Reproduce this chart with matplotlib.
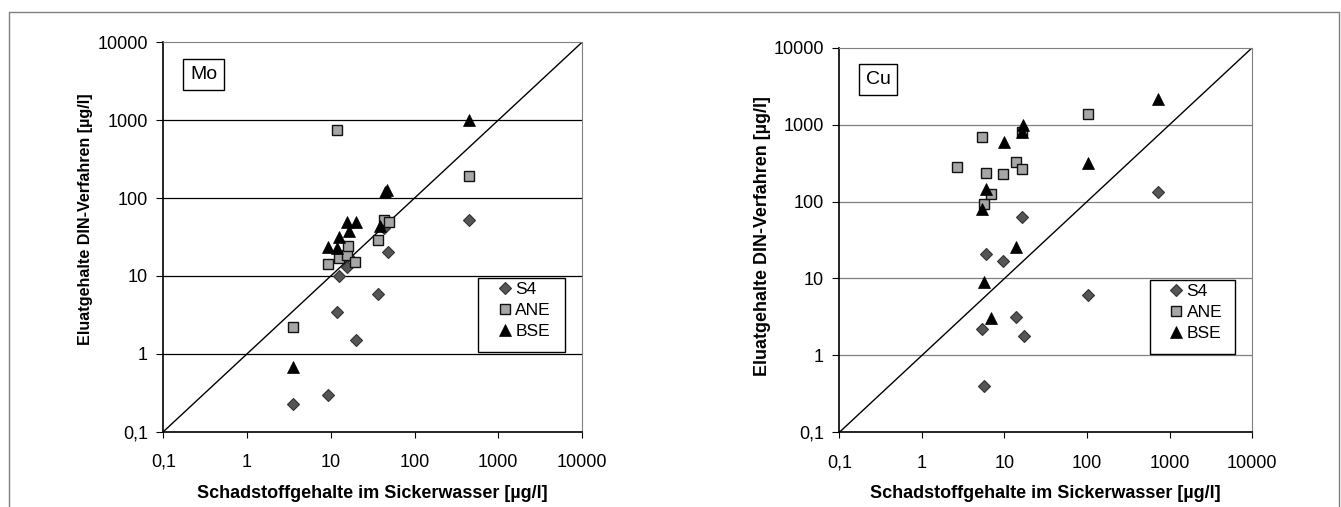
import matplotlib
matplotlib.use("Agg")
import matplotlib.pyplot as plt
from matplotlib.patches import Rectangle
from matplotlib.ticker import NullLocator

plt.rcParams["font.family"] = ["Liberation Sans", "DejaVu Sans"]

# data (x = Sickerwasser, y = DIN-Verfahren), µg/l
mo_s4_x = [3.56, 9.3, 12.0, 12.4, 15.7, 16.2, 19.8, 36.8, 43.7, 48, 447]
mo_s4_y = [0.227, 0.30, 3.4, 10.1, 13.2, 18.0, 1.5, 5.8, 41, 20.5, 52]
mo_ane_x = [3.56, 9.2, 11.9, 12.4, 15.7, 16.2, 19.5, 36.5, 43, 49, 447]
mo_ane_y = [2.23, 14.3, 748, 16.9, 18.6, 24.3, 15.0, 29, 52.4, 50, 194]
mo_bse_x = [3.56, 9.3, 11.9, 12.5, 15.7, 16.7, 20.1, 38.2, 44, 47, 447]
mo_bse_y = [0.67, 23.8, 23, 31.9, 48.9, 37.9, 48.9, 44, 121, 127, 1000]

cu_s4_x = [5.38, 5.65, 5.91, 9.68, 13.8, 16.1, 17.2, 103.5, 716]
cu_s4_y = [2.18, 0.40, 20.6, 17.0, 3.18, 63.4, 1.78, 6.08, 132]
cu_ane_x = [2.64, 5.38, 5.65, 5.91, 6.8, 9.68, 13.8, 16.1, 16.5, 103.5]
cu_ane_y = [284, 697, 92.7, 237, 125, 228, 324, 262, 794, 1386]
cu_bse_x = [5.38, 5.65, 5.91, 6.8, 9.87, 13.8, 16.5, 16.9, 103.5, 716]
cu_bse_y = [79, 9.06, 144, 3.08, 600, 25.8, 800, 990, 320, 2150]

diag = [0.1, 10000]
ticks = [0.1, 1, 10, 100, 1000, 10000]
tick_labels = ["0,1", "1", "10", "100", "1000", "10000"]
series_names = ["S4", "ANE", "BSE"]

fig = plt.figure(figsize=(13.41, 5.07), dpi=100)
fig.add_artist(Rectangle((9 / 1341, -0.1), 1330 / 1341, 1.1 - 12 / 507,
                         transform=fig.transFigure, fill=False,
                         ec="#808080", lw=1.0))

ax1 = fig.add_axes([0.1218, 0.1485, 0.3122, 0.7681])
ax2 = fig.add_axes([0.6259, 0.1473, 0.3079, 0.7587])


def draw(ax, s4, ane, bse, name, grid_color, ylab_size, ylab_y):
    ax.set_xscale("log")
    ax.set_yscale("log")
    ax.set_xlim(0.1, 10000)
    ax.set_ylim(0.1, 10000)
    for t in ticks[1:-1]:
        ax.axhline(t, color=grid_color, lw=0.9, zorder=1)
    ax.plot(diag, diag, color="black", lw=1.0, zorder=2)
    ax.plot(s4[0], s4[1], ls="none", marker="D", ms=6, mfc="#555555",
            mec="#333333", mew=0.8, label=series_names[0], zorder=3)
    ax.plot(ane[0], ane[1], ls="none", marker="s", ms=7, mfc="#a6a6a6",
            mec="#111111", mew=1.0, label=series_names[1], zorder=4)
    ax.plot(bse[0], bse[1], ls="none", marker="^", ms=8, mfc="black",
            mec="black", mew=0.5, label=series_names[2], zorder=5)

    ax.set_xticks(ticks)
    ax.set_xticklabels(tick_labels)
    ax.set_yticks(ticks)
    ax.set_yticklabels(tick_labels)
    ax.xaxis.set_minor_locator(NullLocator())
    ax.yaxis.set_minor_locator(NullLocator())
    ax.tick_params(axis="x", direction="out", length=4, pad=12, labelsize=13)
    ax.tick_params(axis="y", direction="out", length=5, pad=6, labelsize=13)
    for side in ("top", "right"):
        ax.spines[side].set_color("#808080")
    for side in ("left", "bottom"):
        ax.spines[side].set_color("black")
        ax.spines[side].set_linewidth(1.2)

    ax.set_xlabel("Schadstoffgehalte im Sickerwasser [µg/l]", fontsize=13,
                  fontweight="bold", va="center")
    ax.xaxis.set_label_coords(0.5, -0.159)
    ax.set_ylabel("Eluatgehalte DIN-Verfahren [µg/l]", fontsize=ylab_size,
                  fontweight="bold", va="center")
    ax.yaxis.set_label_coords(-0.187, ylab_y)

    ax.text(0.064, 0.917, name, transform=ax.transAxes, fontsize=14,
            ha="left", va="center", zorder=6,
            bbox=dict(boxstyle="square,pad=0.35", fc="white", ec="black", lw=1))

    ax.add_patch(Rectangle((0.752, 0.204), 0.207, 0.1915,
                           transform=ax.transAxes, fc="white", ec="black",
                           lw=1, zorder=6))
    leg = ax.legend(loc="upper left", bbox_to_anchor=(0.795, 0.385),
                    frameon=False, fontsize=12.5, handlelength=1.0,
                    handletextpad=0.1, borderpad=0, borderaxespad=0,
                    labelspacing=0.33, numpoints=1)
    leg.set_zorder(7)


draw(ax1, (mo_s4_x, mo_s4_y), (mo_ane_x, mo_ane_y), (mo_bse_x, mo_bse_y),
     "Mo", "black", 11.6, 0.546)
draw(ax2, (cu_s4_x, cu_s4_y), (cu_ane_x, cu_ane_y), (cu_bse_x, cu_bse_y),
     "Cu", "#808080", 12.9, 0.509)

plt.savefig("out.png", dpi=100)
